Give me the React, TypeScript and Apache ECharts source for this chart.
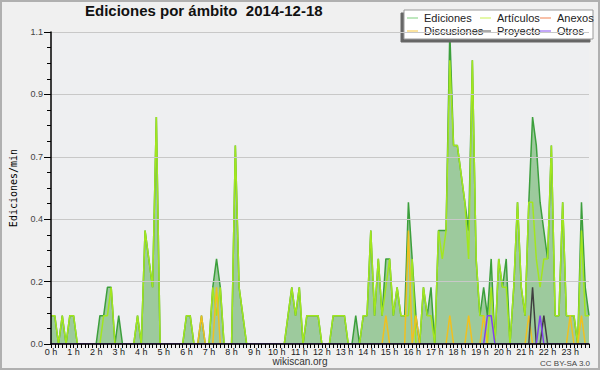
import React, { useEffect, useRef } from "react";
import * as echarts from "echarts";

const hourLabels = [
  "0 h", "1 h", "2 h", "3 h", "4 h", "5 h", "6 h", "7 h", "8 h", "9 h", "10 h", "11 h",
  "12 h", "13 h", "14 h", "15 h", "16 h", "17 h", "18 h", "19 h", "20 h", "21 h", "22 h", "23 h",
];
const minuteLabels = ["00", "10", "20", "30", "40", "50"];
const categories: string[] = [];
hourLabels.forEach((h, hi) => minuteLabels.forEach((m) => categories.push(`${hi}:${m}`)));

const yTicks = ["0.0", "0.2", "0.4", "0.7", "0.9", "1.1"];

// Ediciones / min, 10-minute buckets
const ediciones = [
  0.1, 0.1, 0, 0.1, 0, 0.1, 0.1, 0, 0, 0, 0, 0,
  0, 0.1, 0.1, 0.2, 0.2, 0, 0.1, 0, 0, 0, 0, 0.1,
  0, 0.4, 0.3, 0.2, 0.8, 0, 0, 0, 0, 0, 0, 0,
  0.1, 0.1, 0, 0, 0.1, 0, 0, 0.2, 0.3, 0.2, 0, 0,
  0, 0.7, 0.2, 0.1, 0, 0, 0, 0, 0, 0, 0, 0,
  0, 0, 0, 0.1, 0.2, 0.1, 0.2, 0, 0.1, 0.1, 0.1, 0.1,
  0, 0, 0, 0.1, 0.1, 0.1, 0.1, 0, 0, 0.1, 0, 0.1,
  0.1, 0.4, 0.1, 0.3, 0.1, 0.3, 0.3, 0.1, 0.2, 0.1, 0.1, 0.5,
  0.3, 0.1, 0, 0.2, 0.1, 0.2, 0, 0.4, 0.4, 0.4, 1.1, 0.7,
  0.7, 0.6, 0.5, 0.4, 1.0, 0.3, 0.1, 0.2, 0.1, 0.3, 0, 0.3,
  0.2, 0.3, 0, 0.2, 0.5, 0.2, 0.1, 0.5, 0.8, 0.7, 0.5, 0.4,
  0.3, 0.7, 0.1, 0.1, 0.5, 0.1, 0.1, 0.1, 0, 0.5, 0.2, 0.1,
];
const articulos = [
  0.1, 0.1, 0, 0.1, 0, 0.1, 0.1, 0, 0, 0, 0, 0,
  0, 0, 0.1, 0.1, 0.2, 0, 0, 0, 0, 0, 0, 0.1,
  0, 0.4, 0.3, 0.2, 0.8, 0, 0, 0, 0, 0, 0, 0,
  0.1, 0.1, 0, 0, 0, 0, 0, 0.2, 0.1, 0.2, 0, 0,
  0, 0.7, 0.2, 0.1, 0, 0, 0, 0, 0, 0, 0, 0,
  0, 0, 0, 0.1, 0.2, 0.1, 0.2, 0, 0.1, 0.1, 0.1, 0.1,
  0, 0, 0, 0.1, 0.1, 0.1, 0.1, 0, 0, 0, 0, 0.1,
  0.1, 0.4, 0.1, 0.3, 0.1, 0.2, 0.3, 0.1, 0.2, 0.1, 0.1, 0.1,
  0.3, 0, 0, 0.2, 0.1, 0.1, 0, 0.4, 0.3, 0.4, 1.0, 0.7,
  0.7, 0.6, 0.5, 0.3, 1.0, 0.3, 0.1, 0.1, 0, 0.2, 0, 0.3,
  0.2, 0.2, 0, 0.2, 0.5, 0.2, 0.1, 0.5, 0.5, 0.3, 0.2, 0.3,
  0.3, 0.7, 0.1, 0.1, 0.5, 0.1, 0.1, 0.1, 0, 0.4, 0.1, 0.1,
];
const anexos = [
  0, 0, 0, 0, 0, 0, 0, 0, 0, 0, 0, 0,
  0, 0, 0, 0, 0, 0, 0, 0, 0, 0, 0, 0,
  0, 0, 0, 0, 0, 0, 0, 0, 0, 0, 0, 0,
  0, 0, 0, 0, 0, 0, 0, 0, 0, 0, 0, 0,
  0, 0, 0, 0, 0, 0, 0, 0, 0, 0, 0, 0,
  0, 0, 0, 0, 0, 0, 0, 0, 0, 0, 0, 0,
  0, 0, 0, 0, 0, 0, 0, 0, 0, 0, 0, 0,
  0, 0, 0, 0, 0, 0, 0, 0, 0, 0, 0, 0,
  0, 0, 0, 0, 0, 0, 0, 0, 0, 0, 0, 0,
  0, 0, 0, 0, 0, 0, 0, 0, 0, 0, 0, 0,
  0, 0, 0, 0, 0, 0, 0, 0, 0, 0, 0, 0,
  0, 0, 0, 0, 0, 0, 0, 0, 0, 0, 0, 0,
];
const discusiones = [
  0, 0, 0, 0, 0, 0, 0, 0, 0, 0, 0, 0,
  0, 0, 0, 0, 0, 0, 0, 0, 0, 0, 0, 0,
  0, 0, 0, 0, 0, 0, 0, 0, 0, 0, 0, 0,
  0, 0, 0, 0, 0.1, 0, 0, 0, 0.2, 0, 0, 0,
  0, 0, 0, 0, 0, 0, 0, 0, 0, 0, 0, 0,
  0, 0, 0, 0, 0, 0, 0, 0, 0, 0, 0, 0,
  0, 0, 0, 0, 0, 0, 0, 0, 0, 0, 0, 0,
  0, 0, 0, 0, 0, 0.1, 0, 0, 0, 0, 0, 0.4,
  0, 0.1, 0, 0, 0, 0, 0, 0, 0, 0, 0.1, 0,
  0, 0, 0, 0.1, 0, 0, 0, 0.1, 0, 0, 0, 0,
  0, 0, 0, 0, 0, 0, 0, 0.1, 0, 0, 0, 0,
  0, 0, 0, 0, 0, 0, 0.1, 0, 0, 0.1, 0, 0,
];
const proyecto = [
  0, 0, 0, 0, 0, 0, 0, 0, 0, 0, 0, 0,
  0, 0, 0, 0, 0, 0, 0, 0, 0, 0, 0, 0,
  0, 0, 0, 0, 0, 0, 0, 0, 0, 0, 0, 0,
  0, 0, 0, 0, 0, 0, 0, 0, 0, 0, 0, 0,
  0, 0, 0, 0, 0, 0, 0, 0, 0, 0, 0, 0,
  0, 0, 0, 0, 0, 0, 0, 0, 0, 0, 0, 0,
  0, 0, 0, 0, 0, 0, 0, 0, 0, 0, 0, 0,
  0, 0, 0, 0, 0, 0, 0, 0, 0, 0, 0, 0,
  0, 0, 0, 0, 0, 0, 0, 0, 0, 0, 0, 0,
  0, 0, 0, 0, 0, 0, 0, 0, 0, 0, 0, 0,
  0, 0, 0, 0, 0, 0, 0, 0, 0.2, 0, 0, 0.1,
  0, 0, 0, 0, 0, 0, 0, 0, 0, 0, 0, 0,
];
const otros = [
  0, 0, 0, 0, 0, 0, 0, 0, 0, 0, 0, 0,
  0, 0, 0, 0, 0, 0, 0, 0, 0, 0, 0, 0,
  0, 0, 0, 0, 0, 0, 0, 0, 0, 0, 0, 0,
  0, 0, 0, 0, 0, 0, 0, 0, 0, 0, 0, 0,
  0, 0, 0, 0, 0, 0, 0, 0, 0, 0, 0, 0,
  0, 0, 0, 0, 0, 0, 0, 0, 0, 0, 0, 0,
  0, 0, 0, 0, 0, 0, 0, 0, 0, 0, 0, 0,
  0, 0, 0, 0, 0, 0, 0, 0, 0, 0, 0, 0,
  0, 0, 0, 0, 0, 0, 0, 0, 0, 0, 0, 0,
  0, 0, 0, 0, 0, 0, 0, 0, 0.1, 0.1, 0, 0,
  0, 0, 0, 0, 0, 0, 0, 0, 0, 0, 0.1, 0,
  0, 0, 0, 0, 0, 0, 0, 0, 0, 0, 0, 0,
];

const NARROW = "'Liberation Sans Narrow', 'Liberation Sans', sans-serif";

const lineSeries = (name: string, data: number[], color: string, extra: any = {}) => ({
  type: "line",
  name,
  data,
  symbol: "none",
  showSymbol: false,
  lineStyle: { color, width: 1.5 },
  itemStyle: { color },
  z: 2,
  ...extra,
});

const legendItem = (name: string, color: string) => ({
  name,
  icon: "rect",
  itemStyle: { color, borderWidth: 0 },
  lineStyle: { color, width: 0 },
});

const legendBase = {
  orient: "vertical",
  top: 12,
  padding: 0,
  itemGap: 1,
  itemWidth: 11,
  itemHeight: 1,
  icon: "rect",
  textStyle: { fontSize: 11, lineHeight: 12, fontFamily: NARROW, color: "#222", padding: [0, 0, 0, 1] },
  z: 5,
};

export default function App() {
  const ref = useRef<HTMLDivElement>(null);
  useEffect(() => {
    document.body.style.margin = "0";
    const chart = echarts.init(ref.current!, null, { renderer: "svg" });
    chart.setOption({
      animation: false,
      backgroundColor: "#f0f0f0",
      title: {
        text: "Ediciones por ámbito  2014-12-18",
        left: 85,
        top: 3,
        padding: 0,
        textStyle: { fontFamily: NARROW, fontWeight: "bold", fontSize: 15, color: "#111" },
      },
      legend: [
        {
          ...legendBase,
          left: 407,
          data: [legendItem("Ediciones", "#7ccf7c"), legendItem("Discusiones", "#f8c840")],
        },
        {
          ...legendBase,
          left: 480,
          data: [legendItem("Artículos", "#c8f050"), legendItem("Proyecto", "#555555")],
        },
        {
          ...legendBase,
          left: 540,
          data: [legendItem("Anexos", "#f08050"), legendItem("Otros", "#8850f0")],
        },
      ],
      grid: {
        left: 46.5,
        right: 11,
        top: 32,
        bottom: 26,
        show: true,
        backgroundColor: "#eeeff1",
        borderWidth: 0,
      },
      xAxis: {
        type: "category",
        data: categories,
        boundaryGap: false,
        z: 10,
        axisLine: { lineStyle: { color: "#000", width: 1.5 } },
        axisTick: { show: true, interval: 0, length: 4, lineStyle: { color: "#000" } },
        axisLabel: {
          interval: 5,
          margin: 3,
          fontSize: 9,
          fontFamily: NARROW,
          color: "#222",
          formatter: (_v: string, idx: number) => hourLabels[Math.floor(idx / 6)],
        },
        splitLine: { show: false },
      },
      yAxis: {
        type: "value",
        min: 0,
        max: 1.1,
        interval: 0.22,
        z: 10,
        name: "Ediciones/min",
        nameLocation: "middle",
        nameRotate: 90,
        nameGap: 33,
        nameTextStyle: { fontFamily: "'DejaVu Sans Mono', monospace", fontSize: 10, color: "#000" },
        axisLine: { show: true, lineStyle: { color: "#000", width: 1.5 } },
        axisTick: { show: true, length: 7, lineStyle: { color: "#000" } },
        minorTick: { show: true, splitNumber: 4, length: 4, lineStyle: { color: "#000" } },
        axisLabel: {
          margin: 8,
          fontSize: 9,
          fontFamily: NARROW,
          color: "#444",
          formatter: (v: number) => yTicks[Math.round(v / 0.22)],
        },
        splitLine: { show: true, lineStyle: { color: "#c8c8c8", width: 1 } },
      },
      series: [
        lineSeries("Ediciones", ediciones, "#3c9f3c", { areaStyle: { color: "#9dca9d", opacity: 1 } }),
        lineSeries("Artículos", articulos, "#a2e61e"),
        lineSeries("Anexos", anexos, "#f08050"),
        lineSeries("Discusiones", discusiones, "#f0c020"),
        lineSeries("Proyecto", proyecto, "#404040"),
        lineSeries("Otros", otros, "#8040f0"),
      ],
      graphic: [
        {
          type: "rect",
          z: 3,
          shape: { x: 404, y: 10, width: 189, height: 29 },
          style: {
            fill: "#ffffff",
            stroke: "#999999",
            lineWidth: 1,
            shadowColor: "#666666",
            shadowOffsetX: -3,
            shadowOffsetY: 3,
            shadowBlur: 0,
          },
        },
        {
          type: "text",
          x: 300,
          y: 361,
          style: {
            text: "wikiscan.org",
            fontFamily: NARROW,
            fontSize: 10,
            fill: "#333",
            align: "center",
            verticalAlign: "middle",
          },
        },
        {
          type: "text",
          x: 590,
          y: 363,
          style: {
            text: "CC BY-SA 3.0",
            fontFamily: NARROW,
            fontSize: 8,
            fill: "#444",
            align: "right",
            verticalAlign: "middle",
          },
        },
        {
          type: "rect",
          z: 20,
          shape: { x: 1, y: 1, width: 598, height: 368 },
          style: { fill: "none", stroke: "#b0b0b0", lineWidth: 2 },
        },
      ],
    });
    return () => chart.dispose();
  }, []);
  return <div ref={ref} style={{ position: "absolute", left: 0, top: 0, width: 600, height: 370 }} />;
}
